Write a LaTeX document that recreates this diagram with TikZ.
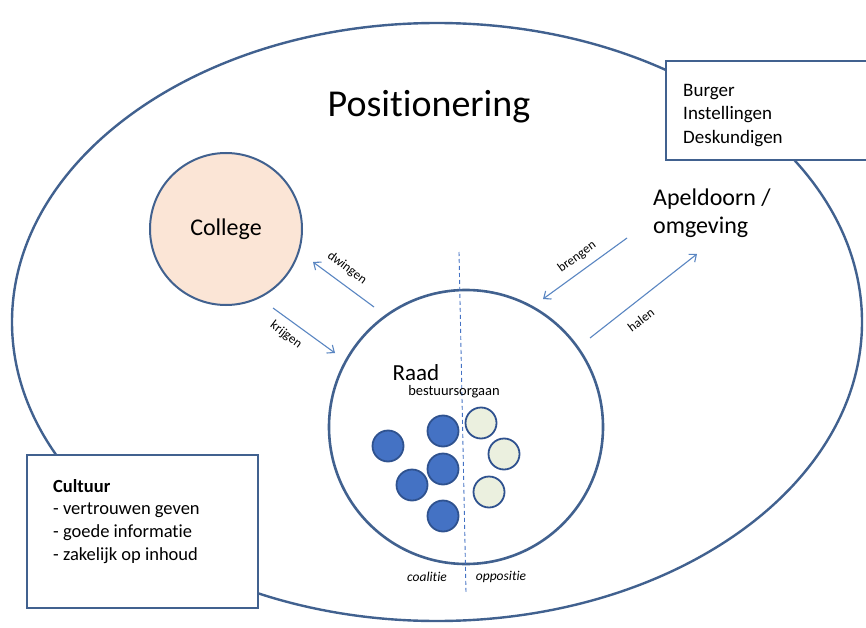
\documentclass[tikz,border=0pt]{standalone}
\usepackage{fontspec}
\setmainfont{Carlito}[Ligatures=NoCommon]
\usetikzlibrary{arrows.meta}
\definecolor{edge}{HTML}{41618F}
\definecolor{arrowc}{HTML}{5A86C2}
\definecolor{peach}{HTML}{FBE5D6}
\definecolor{coal}{HTML}{4472C4}
\definecolor{coalb}{HTML}{2F528F}
\definecolor{oppo}{HTML}{EBF0DF}
\tikzset{
  flow/.style={draw=arrowc, line width=1.1pt, -{Straight Barb[length=6pt,width=10pt]}},
  flowlabel/.style={font=\fontsize{13}{15}\selectfont, inner sep=0pt},
  infobox/.style={draw=edge, line width=2.6pt, fill=white},
  coalmember/.style={circle, minimum size=31pt, inner sep=0pt, draw=coalb, line width=1.8pt, fill=coal},
  oppmember/.style={circle, minimum size=31pt, inner sep=0pt, draw=coalb, line width=1.8pt, fill=oppo},
}
\begin{document}
\begin{tikzpicture}[x=1pt,y=-1pt]
\useasboundingbox (0,0) rectangle (866,628);
\clip (0,0) rectangle (866,628);
\fill[white] (0,0) rectangle (866,628);
% outer ellipse
\draw[edge, line width=2.4pt] (437,322) ellipse [x radius=425, y radius=299];
\node[font=\fontsize{38}{45}\selectfont, anchor=base, inner sep=0pt] (pos) at (429,117) {Positionering};
% top right box
\draw[infobox] (666,61) rectangle (885,160);
\node[anchor=north west, inner sep=0pt, align=left, font=\fontsize{19}{23.5}\selectfont] (stake) at (683,84) {Burger\\Instellingen\\Deskundigen};
% culture box
\draw[infobox] (27,455) rectangle (258,608);
\node[anchor=north west, inner sep=0pt, align=left, font=\fontsize{18.5}{22.7}\selectfont] (cult) at (53,479) {\textbf{Cultuur}\\- vertrouwen geven\\- goede informatie\\- zakelijk op inhoud};
% College
\node[circle, minimum size=152pt, draw=edge, line width=2pt, fill=peach, font=\fontsize{24}{28}\selectfont] (college) at (226,229) {College};
% Raad
\node[circle, minimum size=274pt, draw=edge, line width=2.6pt] (raad) at (466,427) {};
\draw[coal, line width=0.9pt, dash pattern=on 4pt off 3pt] (459,252) coordinate (dtop) -- (466,593) coordinate (dbot);
\node[font=\fontsize{23}{27}\selectfont, inner sep=0pt] (raadlbl) at (416,373) {Raad};
\node[font=\fontsize{14.5}{17}\selectfont, inner sep=0pt] (organ) at (454,392) {bestuursorgaan};
% members
\node[coalmember] (c1) at (388,446) {};
\node[coalmember] (c2) at (443,431) {};
\node[coalmember] (c3) at (443,469) {};
\node[coalmember] (c4) at (412,485) {};
\node[coalmember] (c5) at (443,516) {};
\node[oppmember] (o1) at (481,423) {};
\node[oppmember] (o2) at (504,454) {};
\node[oppmember] (o3) at (489,492) {};
\node[font=\fontsize{13.5}{15}\selectfont\itshape, inner sep=0pt] (coalitie) at (427,577) {coalitie};
\node[font=\fontsize{13.5}{15}\selectfont\itshape, inner sep=0pt] (oppositie) at (501,577) {oppositie};
% Apeldoorn
\node[anchor=north west, inner sep=0pt, align=left, font=\fontsize{24}{28}\selectfont] (apel) at (653,189) {Apeldoorn /\\omgeving};
% arrows
\coordinate (dws) at (374,307);
\coordinate (dwe) at (313,262);
\draw[flow] (dws) -- (dwe);
\node[flowlabel, rotate=-37] (dwl) at (347,268) {dwingen};
\coordinate (krs) at (273,308);
\coordinate (kre) at (335,353);
\draw[flow] (krs) -- (kre);
\node[flowlabel, rotate=-37] (krl) at (286,335) {krijgen};
\coordinate (brs) at (627,238);
\coordinate (bre) at (543,299);
\draw[flow] (brs) -- (bre);
\node[flowlabel, rotate=36] (brl) at (577,257) {brengen};
\coordinate (has) at (590,338);
\coordinate (hae) at (697,254);
\draw[flow] (has) -- (hae);
\node[flowlabel, rotate=37] (hal) at (641,320) {halen};
\end{tikzpicture}
\end{document}
